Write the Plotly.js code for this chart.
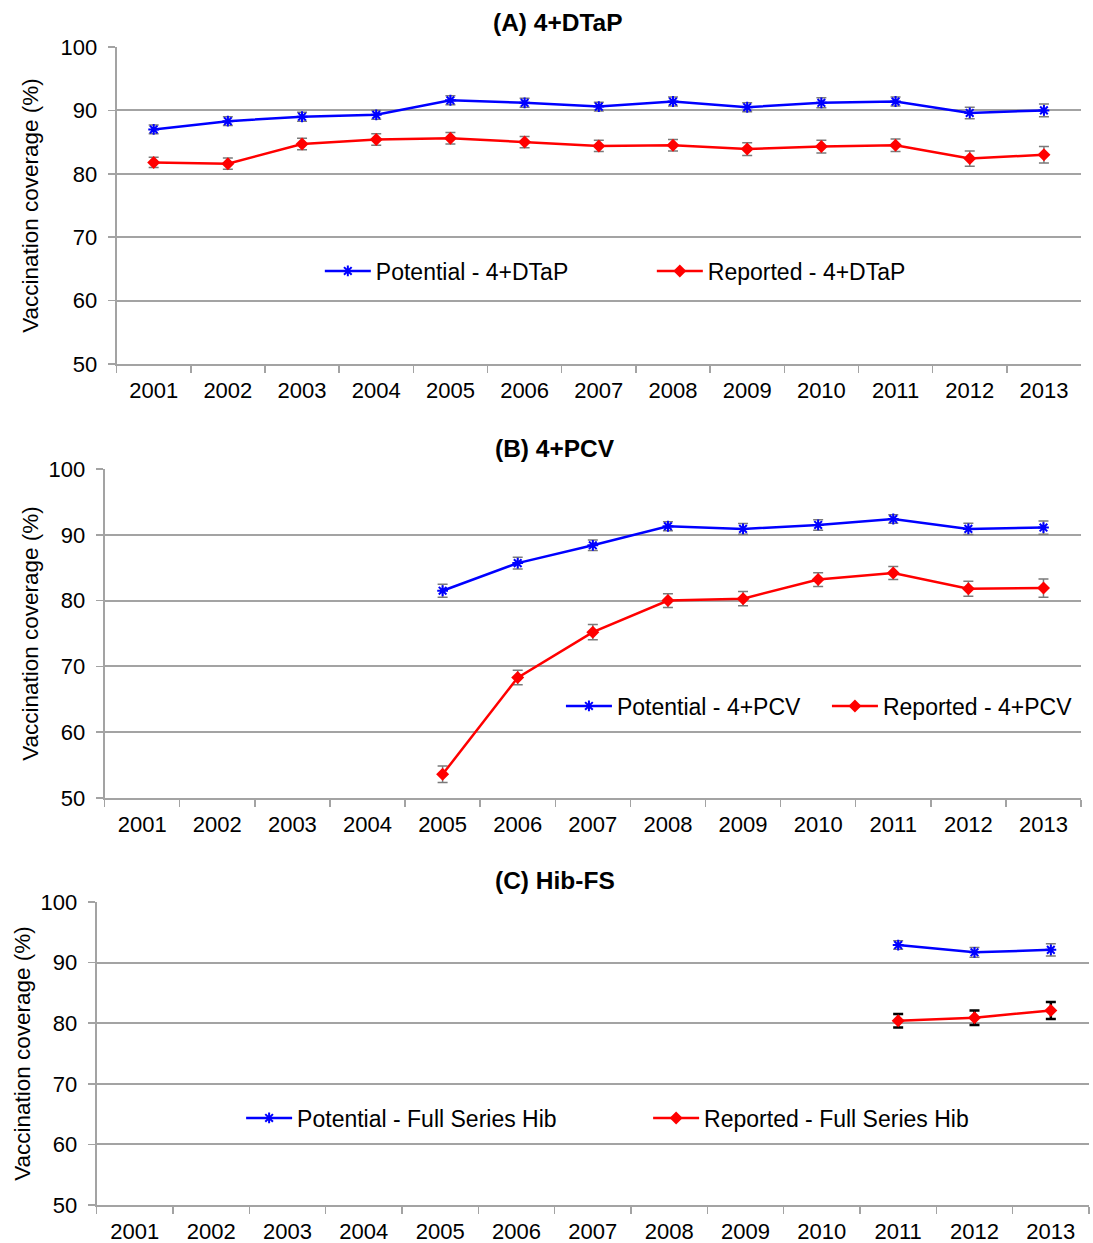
<!DOCTYPE html>
<html>
<head>
<meta charset="utf-8">
<script src="https://cdn.plot.ly/plotly-3.0.1.min.js"></script>
<style>html,body{margin:0;padding:0;background:#fff;overflow:hidden;}#chart{width:1093px;height:1243px;}</style>
</head>
<body>
<div id="chart"></div>
<script>
var years = ['2001','2002','2003','2004','2005','2006','2007','2008','2009','2010','2011','2012','2013'];
var yTicks = [50, 60, 70, 80, 90, 100];

var dtapPotential    = [87.0, 88.3, 89.0, 89.3, 91.6, 91.2, 90.6, 91.4, 90.5, 91.2, 91.4, 89.6, 90.0];
var dtapPotentialErr = [0.7, 0.7, 0.7, 0.7, 0.7, 0.7, 0.7, 0.7, 0.7, 0.8, 0.7, 0.9, 1.0];
var dtapReported     = [81.8, 81.6, 84.7, 85.4, 85.6, 85.0, 84.4, 84.5, 83.9, 84.3, 84.5, 82.4, 83.0];
var dtapReportedErr  = [0.8, 0.9, 0.9, 0.9, 0.9, 0.9, 0.9, 0.9, 1.0, 1.0, 1.0, 1.2, 1.3];

var pcvPotential     = [null, null, null, null, 81.5, 85.7, 88.4, 91.3, 90.9, 91.5, 92.4, 90.9, 91.1];
var pcvPotentialErr  = [null, null, null, null, 1.0, 0.9, 0.8, 0.7, 0.8, 0.8, 0.65, 0.85, 1.0];
var pcvReported      = [null, null, null, null, 53.6, 68.3, 75.2, 80.0, 80.3, 83.2, 84.2, 81.8, 81.9];
var pcvReportedErr   = [null, null, null, null, 1.25, 1.1, 1.15, 1.05, 1.1, 1.05, 1.0, 1.15, 1.4];

var hibPotential     = [null, null, null, null, null, null, null, null, null, null, 92.9, 91.7, 92.1];
var hibPotentialErr  = [null, null, null, null, null, null, null, null, null, null, 0.7, 0.8, 1.0];
var hibReported      = [null, null, null, null, null, null, null, null, null, null, 80.4, 80.9, 82.1];
var hibReportedErr   = [null, null, null, null, null, null, null, null, null, null, 1.1, 1.2, 1.4];

var panelTitles = ['(A) 4+DTaP', '(B) 4+PCV', '(C) Hib-FS'];
var yTitle = 'Vaccination coverage (%)';
var legendNames = [
  ['Potential - 4+DTaP', 'Reported - 4+DTaP'],
  ['Potential - 4+PCV', 'Reported - 4+PCV'],
  ['Potential - Full Series Hib', 'Reported - Full Series Hib']
];

var FONT = 'Liberation Sans, Arial, sans-serif';
var W = 1093, H = 1243;
var BLUE = '#0000ff', RED = '#ff0000', GRID = '#a3a3a3', ERRGRAY = '#7a7a7a';

function potTrace(y, err, name, xa, ya, leg) {
  return {
    x: years, y: y, type: 'scatter', mode: 'lines+markers', name: name,
    xaxis: xa, yaxis: ya, legend: leg,
    line: {color: BLUE, width: 2.5},
    marker: {symbol: 'asterisk-open', size: 9, color: BLUE, line: {color: BLUE, width: 2}},
    error_y: {type: 'data', array: err, visible: true, color: ERRGRAY, thickness: 1.5, width: 5}
  };
}
function repTrace(y, err, name, xa, ya, leg, errColor, errThick) {
  return {
    x: years, y: y, type: 'scatter', mode: 'lines+markers', name: name,
    xaxis: xa, yaxis: ya, legend: leg,
    line: {color: RED, width: 2.5},
    marker: {symbol: 'diamond', size: 10, color: RED},
    error_y: {type: 'data', array: err, visible: true, color: errColor, thickness: errThick, width: 5}
  };
}

var data = [
  potTrace(dtapPotential, dtapPotentialErr, legendNames[0][0], 'x', 'y', 'legend'),
  repTrace(dtapReported, dtapReportedErr, legendNames[0][1], 'x', 'y', 'legend', ERRGRAY, 1.5),
  potTrace(pcvPotential, pcvPotentialErr, legendNames[1][0], 'x2', 'y2', 'legend2'),
  repTrace(pcvReported, pcvReportedErr, legendNames[1][1], 'x2', 'y2', 'legend2', ERRGRAY, 1.5),
  potTrace(hibPotential, hibPotentialErr, legendNames[2][0], 'x3', 'y3', 'legend3'),
  repTrace(hibReported, hibReportedErr, legendNames[2][1], 'x3', 'y3', 'legend3', '#000000', 2.5)
];

function px(x) { return x / W; }
function py(y) { return 1 - y / H; }

function xAxis(left, right, anchor) {
  return {
    domain: [px(left), px(right)], anchor: anchor, type: 'category',
    range: [-0.5, 12.5], tickson: 'boundaries', ticks: 'outside', ticklen: 7,
    tickwidth: 1.5, tickcolor: GRID, showline: true, linecolor: GRID, linewidth: 2,
    showgrid: false, zeroline: false, fixedrange: true, ticklabelstandoff: 6,
    tickfont: {family: FONT, size: 22, color: '#000'}
  };
}
function yAxis(top, bottom, anchor, standoff) {
  return {
    domain: [py(bottom), py(top)], anchor: anchor, range: [50, 100],
    tickvals: yTicks, ticks: 'outside', ticklen: 7, tickwidth: 1.5, tickcolor: GRID,
    showline: true, linecolor: GRID, linewidth: 2, showgrid: true, gridcolor: GRID, gridwidth: 2,
    zeroline: false, fixedrange: true, ticklabelstandoff: 6,
    tickfont: {family: FONT, size: 22, color: '#000'},
    title: {text: yTitle, standoff: standoff, font: {family: FONT, size: 22.5, color: '#000'}}
  };
}

function legendAt(xLeft, yMid, entry) {
  return {
    x: px(xLeft), y: py(yMid), xanchor: 'left', yanchor: 'middle', orientation: 'h',
    bgcolor: 'rgba(255,255,255,0)', borderwidth: 0, entrywidth: entry, entrywidthmode: 'pixels',
    itemwidth: 46,
    font: {family: FONT, size: 23, color: '#000'}, itemclick: false
  };
}

function titleAnn(text, x, y) {
  return {text: '<b>' + text + '</b>', x: px(x), y: py(y), xref: 'paper', yref: 'paper',
    xanchor: 'center', yanchor: 'middle', showarrow: false,
    font: {family: FONT, size: 24.5, color: '#000'}};
}

var layout = {
  width: W, height: H, margin: {l: 0, r: 0, t: 0, b: 0},
  paper_bgcolor: '#fff', plot_bgcolor: '#fff', showlegend: true,
  font: {family: FONT, color: '#000'},
  xaxis: xAxis(117, 1085, 'y'), yaxis: yAxis(47, 364, 'x', 16),
  xaxis2: xAxis(105, 1085, 'y2'), yaxis2: yAxis(469, 798, 'x2', 4),
  xaxis3: xAxis(97, 1093, 'y3'), yaxis3: yAxis(902, 1205, 'x3', 4),
  legend: legendAt(321, 271, 271),
  legend2: legendAt(563, 706, 205),
  legend3: legendAt(242, 1118, 346),
  annotations: [
    titleAnn(panelTitles[0], 560, 22),
    titleAnn(panelTitles[1], 557, 448),
    titleAnn(panelTitles[2], 557, 880)
  ]
};

Plotly.newPlot('chart', data, layout, {displayModeBar: false, staticPlot: true});
</script>
</body>
</html>
